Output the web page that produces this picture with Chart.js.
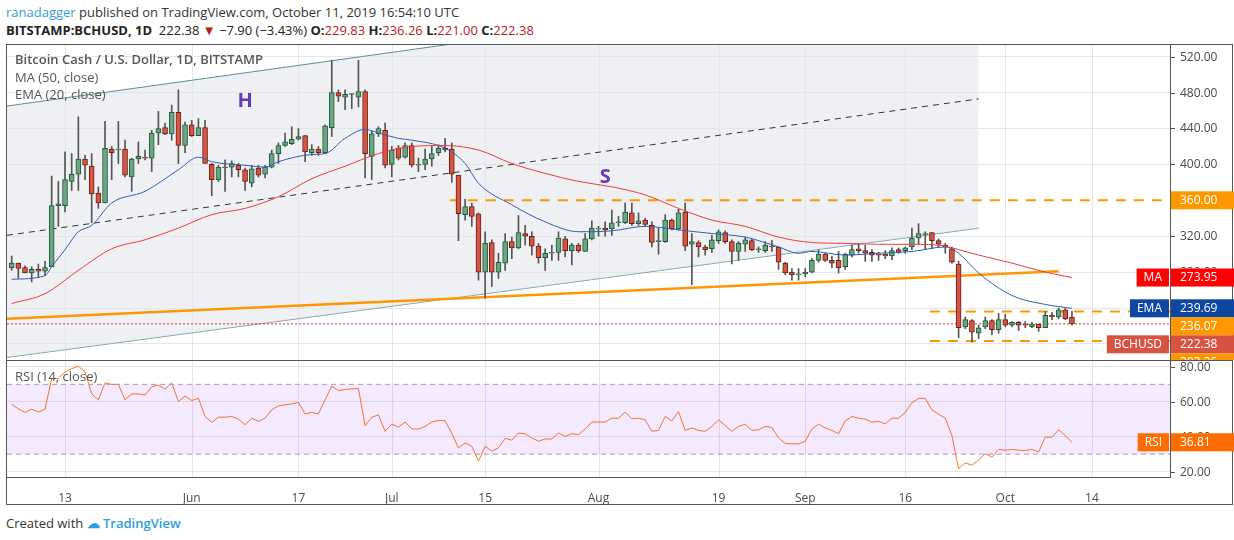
<!DOCTYPE html>
<html>
<head>
<meta charset="utf-8">
<script src="https://cdn.jsdelivr.net/npm/chart.js@4"></script>
<style>
  body { margin: 0; width: 1234px; height: 540px; background: #fff; font-family: "Open Sans", "Liberation Sans", sans-serif; position: relative; overflow: hidden; }
  #hdr1 { position: absolute; left: 6px; top: 3px; font-size: 13px; color: #333; }
  #hdr1 .u { color: #3aa0d8; }
  #hdr2 { position: absolute; left: 6px; top: 21px; font-size: 13px; color: #222; }
  #hdr2 b { font-weight: 700; }
  #hdr2 .r { color: #b71c1c; }
  #frame { position: absolute; left: 6px; top: 44px; width: 1227px; height: 461px; border: 1px solid #555; box-sizing: border-box; }
  #sep { position: absolute; left: 7px; top: 360px; width: 1226px; height: 1px; background: #555; }
  #main { position: absolute; left: 7px; top: 45px; }
  #rsi { position: absolute; left: 7px; top: 361px; }
  #foot { position: absolute; left: 6px; top: 514px; font-size: 13px; color: #333; }
  #foot .tv { color: #2d9cdb; font-weight: 600; }
</style>
</head>
<body>
<div id="hdr1"><span class="u">ranadagger</span> published on TradingView.com, October 11, 2019 16:54:10 UTC</div>
<div id="hdr2"><b>BITSTAMP:BCHUSD, 1D</b>&nbsp; 222.38 <span class="r">▼</span> −7.90 (−3.43%) <b>O:</b><span class="r">229.83</span> <b>H:</b><span class="r">236.26</span> <b>L:</b><span class="r">221.00</span> <b>C:</b><span class="r">222.38</span></div>
<div id="frame"></div>
<canvas id="main" width="1227" height="315"></canvas>
<canvas id="rsi" width="1227" height="144"></canvas>
<div id="sep"></div>
<div id="foot">Created with <span class="tv">&#9729; TradingView</span></div>
<script>
// daily candles, index 0 = May 5 2019
var opens = [285,290,285,279,283,281,286,354,354,381, 389,406,398,368,357,417,416,417,386,406,
  408,407,435,441,434,458,421,444,432,441, 400,383,397,397,399,394,379,396,389,397,
  412,421,423,428,432,413,417,413,441,480, 475,478,475,481,409,434,438,400,418,408,
  421,399,400,406,413,418,417,388,344,353, 345,280,313,280,290,314,307,323,320,309,
  296,301,302,317,304,310,303,317,328,329, 328,335,335,346,334,338,332,314,314,338,
  328,347,311,313,308,306,315,324,314,303, 311,315,305,304,309,308,290,280,277,278,
  280,293,300,293,293,286,299,306,304,302, 300,300,298,305,304,308,318,322,324,315,
  310,306,289,219,226,212,219,226,216,227, 221,224,222,219,222,218,232,230,238,229.83];
var highs = [298,290,287,286,289,292,387,381,414,412, 453,410,412,375,448,420,448,427,407,425,
  416,438,459,446,466,483,447,449,451,449, 401,399,405,404,401,396,399,399,399,416,
  424,435,442,440,432,422,420,444,516,483, 483,479,516,483,437,442,446,420,421,424,
  424,407,417,420,422,429,424,388,361,357, 346,325,316,301,323,319,343,332,325,312,
  306,310,325,320,312,312,323,337,331,336, 349,342,357,357,346,340,336,329,344,339,
  350,357,323,315,310,321,327,326,316,314, 319,317,308,314,315,308,291,284,284,284,
  295,305,301,298,303,301,310,312,310,305, 302,304,307,307,308,329,334,325,324,317,
  312,308,292,230,227,221,230,227,234,233, 225,225,225,224,222,236,235,240,240,236.26];
var lows = [282,273,279,269,274,276,286,331,347,371, 371,383,335,351,357,383,401,386,370,401,
  405,392,422,433,427,401,413,431,432,401, 365,381,370,386,386,371,375,386,385,396,
  401,420,422,427,403,410,410,412,431,470, 461,462,464,385,383,431,396,386,405,407,
  397,392,394,398,410,414,380,315,338,331, 271,251,264,273,282,295,306,310,299,290,
  282,293,293,297,288,302,303,316,320,320, 321,331,334,332,332,331,308,300,313,327,
  327,304,266,297,299,302,312,312,289,293, 303,304,302,302,303,283,277,271,271,275,
  279,291,292,285,279,283,297,301,292,292, 293,295,294,301,301,305,311,305,306,308,
  301,290,207,217,202,206,217,210,212,219, 219,215,218,218,214,218,227,228,227,221];
var closes = [290,284,279,283,281,285,354,356,383,389, 406,399,367,357,418,413,417,388,406,409,
  407,435,440,434,458,421,444,432,441,401, 383,397,396,401,394,381,395,388,397,412,
  421,425,428,431,414,417,413,443,480,476, 478,478,481,412,434,440,399,416,407,421,
  399,400,406,412,418,416,389,345,353,342, 280,312,280,291,314,307,324,320,309,296,
  301,302,318,304,310,304,317,329,329,327, 335,336,347,334,337,333,313,315,338,328,
  346,309,314,308,305,316,325,314,303,312, 316,305,306,310,308,291,279,277,278,280,
  293,300,293,290,285,300,305,304,301,299, 299,298,304,302,307,318,323,323,315,311,
  308,291,218,227,213,218,226,216,227,221, 224,221,221,222,218,232,230,238,228,222.38];

var maDays = [0,5,10,15,20,25,30,35,40,45,50,55,60,65,70,75,80,85,90,95,100,105,110,115,120,125,130,135,140,142,145,150,155,159];
var maVals = [245,256,282,306,316,329,344,351,364,384,398,412,420,421,416,401,390,381,375,366,351,338,331,319,313,312,311,311,309,305,299,290,280,273.95];
var emaDays = [0,5,6,8,10,12,15,20,25,28,30,35,38,40,45,47,50,53,55,58,60,65,68,70,75,80,85,90,95,100,105,110,115,118,120,125,130,135,140,142,145,150,155,159];
var emaVals = [272,276,286,305,325,332,357,370,394,408,403,399,397,403,411,412,429,439,435,429,427,418,401,379,355,336,325,326,331,327,323,319,308,301,303,299,301,303,308,301,279,254,244,239.69];

var rsiVals = [58.6,56,53.9,55.8,54.1,55.8,73.4,73.4,77.2,79, 80.4,77.2,64.5,61.1,70.9,70,70,61.1,64.5,64.5,
  63.9,68.6,69.6,67.3,70.9,60.1,63.3,60.7,62,51.6, 48.2,51.2,51.2,51.6,50.1,46.9,50.6,48.8,50.6,55.4,
  57.7,58.3,58.8,59.7,53.1,53.9,53.1,61.1,69,66.4, 67.1,67.4,67.7,46.3,51.2,52.5,43.1,47.2,45.5,48.4,
  44.4,44.4,45.9,48.4,49.3,49.1,42,33.6,36.4,34.5, 26,34.5,31.7,33.6,39.1,38,42.1,41.7,39.3,37.4,
  38.7,38.7,42.1,40.2,41.7,41.2,44.5,48.4,48.4,48.4, 50.6,50.6,54.1,50.3,50.6,49.7,43.1,43.6,51.6,49.1,
  54.4,43.6,45,43.6,43.1,45.9,49.7,46.3,43.1,45.9, 47.2,43.6,44,45.9,45.3,39.3,36.1,35.9,35.9,37.4,
  44.4,47.2,45,43.6,41.7,49.1,51.6,50.6,50.1,48.4, 48.8,47.4,50.6,50.6,53.9,59.5,62,62,55.4,52.9,
  50.6,40.6,21.7,25,23.6,26.6,30.2,28.3,32.7,32.3, 32.7,32.3,32.1,32.7,31.3,39.8,39.7,44,40.6,36.81];

// x-axis date labels (day index -> text)
var tickDays = [8,27,43,57,71,88,106,119,134,149,162];
var tickNames = ['13','Jun','17','Jul','15','Aug','19','Sep','16','Oct','14'];
var priceTicks = [200,240,280,320,360,400,440,480,520];
var rsiTicks = [20,40,60,80];

// drawings (day index, price)
var upperChan = [[-0.7,465],[145,616]];
var lowerChan = [[-0.7,185],[145,329]];
var midDash = [[-0.7,321],[145,473]];
var neckline = [[-0.7,228],[157,281]];
var resist = 360, rangeTop = 236.07, rangeBottom = 203.36, lastPrice = 222.38;

var XMIN = -0.7, XMAX = 173.7;
var UP = '#6ba583', DOWN = '#d75442';
var font = '"Open Sans", "Liberation Sans", sans-serif';

var up = closes.map(function (c, i) { return c >= opens[i]; });
var bodies = opens.map(function (o, i) {
  var a = Math.min(o, closes[i]), b = Math.max(o, closes[i]);
  if (b - a < 1) b = a + 1;
  return { x: i, y: [a, b] };
});
var wicks = highs.map(function (h, i) { return { x: i, y: [lows[i], h] }; });
function pts(a) { return a.map(function (p) { return { x: p[0], y: p[1] }; }); }
function hline(v, x0) { return [{ x: x0, y: v }, { x: XMAX, y: v }]; }

function fixWidth(s) { s.width = 64; }

// vertical grid lines + right axis labels, drawn by hand so chart.js adds no padding
function axisPlugin(values, skip) {
  return {
    id: 'axisLabels',
    beforeDatasetsDraw: function (chart) {
      var ctx = chart.ctx, xs = chart.scales.x, a = chart.chartArea;
      ctx.save();
      ctx.strokeStyle = '#e6e6e6';
      ctx.lineWidth = 1;
      tickDays.forEach(function (d) {
        var x = Math.round(xs.getPixelForValue(d)) + 0.5;
        ctx.beginPath(); ctx.moveTo(x, a.top); ctx.lineTo(x, a.bottom); ctx.stroke();
      });
      ctx.restore();
    },
    afterDraw: function (chart) {
      var ctx = chart.ctx, ys = chart.scales.y, a = chart.chartArea;
      ctx.save();
      ctx.font = '12px ' + font;
      ctx.fillStyle = '#4a4a4a';
      ctx.strokeStyle = '#555';
      ctx.textBaseline = 'middle';
      values.forEach(function (v) {
        if (skip && skip.indexOf(v) >= 0) return;
        var y = Math.round(ys.getPixelForValue(v)) + 0.5;
        ctx.beginPath(); ctx.moveTo(a.right, y); ctx.lineTo(a.right + 5, y); ctx.stroke();
        ctx.fillText(v.toFixed(2), a.right + 10, y);
      });
      ctx.restore();
    }
  };
}

var priceLabels = [
  { v: resist, bg: '#ff9800' },
  { v: maVals[maVals.length - 1], bg: '#ff0000', tag: 'MA' },
  { v: emaVals[emaVals.length - 1], bg: '#0d47a1', tag: 'EMA' },
  { v: rangeTop, bg: '#ff9800' },
  { v: lastPrice, bg: '#d75442', tag: 'BCHUSD' },
  { v: rangeBottom, bg: '#ff9800' }
];

var overlay = {
  id: 'overlay',
  afterDraw: function (chart) {
    var ctx = chart.ctx, xs = chart.scales.x, ys = chart.scales.y, area = chart.chartArea;
    ctx.save();
    ctx.fillStyle = '#555';
    ctx.font = '600 13px ' + font;
    ctx.textBaseline = 'middle';
    ctx.fillText('Bitcoin Cash / U.S. Dollar, 1D, BITSTAMP', 8, 15);
    ctx.font = '13px ' + font;
    ctx.fillText('MA (50, close)', 8, 33);
    ctx.fillText('EMA (20, close)', 8, 50);
    ctx.fillStyle = '#673ab7';
    ctx.font = 'bold 20px ' + font;
    ctx.textAlign = 'center';
    ctx.fillText('H', xs.getPixelForValue(35), ys.getPixelForValue(470));
    ctx.fillText('S', xs.getPixelForValue(89), ys.getPixelForValue(386));
    // price boxes on the right axis
    var prev = -100;
    var list = priceLabels.slice().sort(function (a, b) { return b.v - a.v; });
    ctx.font = '12px ' + font;
    list.forEach(function (p) {
      var y = ys.getPixelForValue(p.v);
      if (y < prev + 18) y = prev + 18;
      prev = y;
      ctx.fillStyle = p.bg;
      ctx.fillRect(area.right + 1, y - 9, chart.width - area.right - 1, 18);
      ctx.fillStyle = '#fff';
      ctx.textAlign = 'left';
      ctx.fillText(p.v.toFixed(2), area.right + 10, y);
      if (p.tag) {
        var w = ctx.measureText(p.tag).width + 14;
        ctx.fillStyle = p.bg;
        ctx.fillRect(area.right - w - 1, y - 9, w, 18);
        ctx.fillStyle = '#fff';
        ctx.textAlign = 'center';
        ctx.fillText(p.tag, area.right - w / 2 - 1, y);
      }
    });
    ctx.restore();
  }
};

var thin = { type: 'line', pointRadius: 0, borderWidth: 1, fill: false };

new Chart(document.getElementById('main'), {
  data: {
    datasets: [
      Object.assign({}, thin, { data: pts(upperChan), borderColor: '#5e8d92', fill: '+1', backgroundColor: 'rgba(225,228,234,0.55)', order: 10 }),
      Object.assign({}, thin, { data: pts(lowerChan), borderColor: '#5e8d92', order: 10 }),
      Object.assign({}, thin, { data: pts(midDash), borderColor: '#333', borderDash: [6, 5], order: 9 }),
      Object.assign({}, thin, { data: pts(neckline), borderColor: '#ff9800', borderWidth: 2.5, order: 9 }),
      Object.assign({}, thin, { data: hline(resist, 65.7), borderColor: '#ff9800', borderWidth: 2, borderDash: [10, 8], order: 9 }),
      Object.assign({}, thin, { data: hline(rangeTop, 137.7), borderColor: '#ff9800', borderWidth: 2, borderDash: [10, 8], order: 9 }),
      Object.assign({}, thin, { data: hline(rangeBottom, 137.7), borderColor: '#ff9800', borderWidth: 2, borderDash: [10, 8], order: 9 }),
      Object.assign({}, thin, { data: hline(lastPrice, XMIN), borderColor: '#d32f2f', borderDash: [2, 2], order: 9 }),
      { type: 'bar', data: wicks, backgroundColor: '#555', barThickness: 1, grouped: false, order: 3 },
      { type: 'bar', data: bodies, backgroundColor: up.map(function (u) { return u ? UP : DOWN; }),
        borderColor: up.map(function (u) { return u ? '#1e5a37' : '#6a1f15'; }), borderWidth: 1, borderSkipped: false,
        barThickness: 5, grouped: false, order: 2 },
      Object.assign({}, thin, { data: maDays.map(function (d, i) { return { x: d, y: maVals[i] }; }), borderColor: '#f23a3a', cubicInterpolationMode: 'monotone', order: 1 }),
      Object.assign({}, thin, { data: emaDays.map(function (d, i) { return { x: d, y: emaVals[i] }; }), borderColor: '#2f5fb5', cubicInterpolationMode: 'monotone', order: 1 })
    ]
  },
  options: {
    responsive: false, animation: false, events: [],
    layout: { padding: 0 },
    plugins: { legend: { display: false }, tooltip: { enabled: false } },
    scales: {
      x: { type: 'linear', display: false, min: XMIN, max: XMAX, offset: false },
      y: {
        position: 'right', min: 182.1, max: 533,
        afterBuildTicks: function (s) { s.ticks = priceTicks.map(function (v) { return { value: v }; }); },
        ticks: { display: false },
        grid: { color: function (c) { return c.tick && c.tick.value === 360 ? 'rgba(0,0,0,0)' : '#e6e6e6'; }, drawTicks: false },
        border: { color: '#555' },
        afterFit: fixWidth
      }
    }
  },
  plugins: [axisPlugin(priceTicks, [200]), overlay]
});

var rsiOverlay = {
  id: 'rsiOverlay',
  afterDraw: function (chart) {
    var ctx = chart.ctx, ys = chart.scales.y, area = chart.chartArea;
    ctx.save();
    ctx.font = '13px ' + font;
    ctx.fillStyle = '#555';
    ctx.textBaseline = 'middle';
    ctx.fillText('RSI (14, close)', 8, 16);
    var v = rsiVals[rsiVals.length - 1], y = ys.getPixelForValue(v);
    ctx.fillStyle = '#ff6d00';
    ctx.fillRect(area.right + 1, y - 9, chart.width - area.right - 1, 18);
    ctx.font = '12px ' + font;
    var w = ctx.measureText('RSI').width + 14;
    ctx.fillRect(area.right - w - 1, y - 9, w, 18);
    ctx.fillStyle = '#fff';
    ctx.fillText(v.toFixed(2), area.right + 10, y);
    ctx.textAlign = 'center';
    ctx.fillText('RSI', area.right - w / 2 - 1, y);
    ctx.restore();
  }
};

new Chart(document.getElementById('rsi'), {
  data: {
    datasets: [
      Object.assign({}, thin, { data: hline(70, XMIN), borderColor: '#a59fb0', borderDash: [5, 4], fill: '+1', backgroundColor: 'rgba(156,39,240,0.1)' }),
      Object.assign({}, thin, { data: hline(30, XMIN), borderColor: '#a59fb0', borderDash: [5, 4] }),
      Object.assign({}, thin, { data: rsiVals.map(function (r, i) { return { x: i, y: r }; }), borderColor: '#f57c20' })
    ]
  },
  options: {
    responsive: false, animation: false, events: [],
    layout: { padding: 0 },
    plugins: { legend: { display: false }, tooltip: { enabled: false } },
    scales: {
      x: {
        type: 'linear', min: XMIN, max: XMAX, offset: false,
        afterBuildTicks: function (s) { s.ticks = tickDays.map(function (d) { return { value: d }; }); },
        ticks: { color: '#4a4a4a', font: { size: 12, family: font }, padding: 6, maxRotation: 0, autoSkip: false,
          callback: function (v) { return tickNames[tickDays.indexOf(v)]; } },
        grid: { display: false },
        border: { color: '#555' },
        afterFit: function (s) { s.height = 28; }
      },
      y: {
        position: 'right', min: 16.9, max: 83.4,
        afterBuildTicks: function (s) { s.ticks = rsiTicks.map(function (v) { return { value: v }; }); },
        ticks: { display: false },
        grid: { color: '#e6e6e6', drawTicks: false },
        border: { color: '#555' },
        afterFit: fixWidth
      }
    }
  },
  plugins: [axisPlugin(rsiTicks), rsiOverlay]
});
</script>
</body>
</html>
